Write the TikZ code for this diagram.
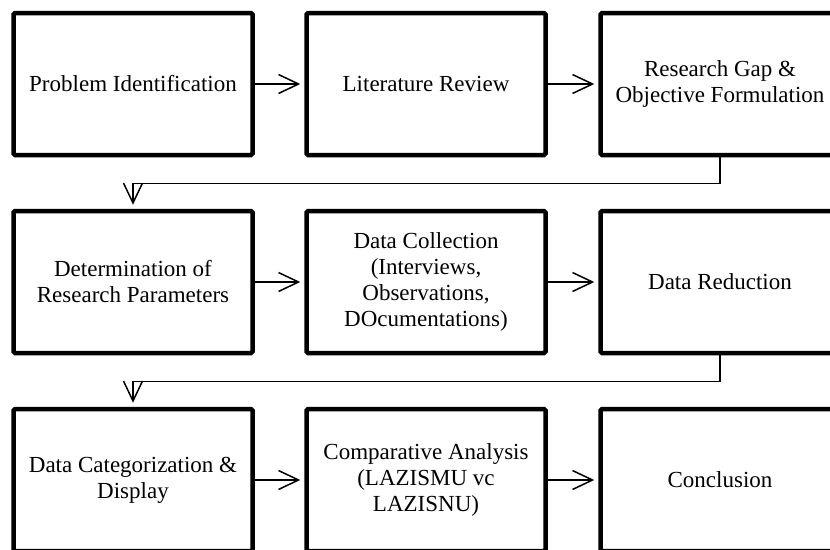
\documentclass[tikz,border=0pt]{standalone}
\usepackage{fontspec}
\setmainfont{Liberation Serif}
\usetikzlibrary{arrows.meta}

\begin{document}
\begin{tikzpicture}[x=1pt,y=-1pt,
    stage/.style={draw,line width=4.5pt,rounded corners=1.5pt,minimum width=239pt,minimum height=142pt,align=center,font=\fontsize{23}{26}\selectfont},
    flow/.style={line width=1.5pt,-{Straight Barb[length=20pt,width=19pt]},shorten >=4pt}]
    \useasboundingbox (0,0) rectangle (830,549);
    % first row
    \node[stage] (ident) at (133,84) {Problem Identification};
    \node[stage] (review) at (426,84) {Literature Review};
    \node[stage] (gap) at (720,84) {Research Gap \&\\Objective Formulation};
    % second row
    \node[stage] (param) at (133,282) {Determination of\\Research Parameters};
    \node[stage] (collect) at (426,282) {Data Collection\\(Interviews,\\Observations,\\DOcumentations)};
    \node[stage] (reduce) at (720,282) {Data Reduction};
    % third row
    \node[stage] (categ) at (133,480) {Data Categorization \&\\Display};
    \node[stage] (compare) at (426,480) {Comparative Analysis\\(LAZISMU vc\\LAZISNU)};
    \node[stage] (concl) at (720,480) {Conclusion};
    \draw[flow] (ident) -- (review);
    \draw[flow] (review) -- (gap);
    \draw[flow] (gap.south) -- ++(0,26) -| (param.north);
    \draw[flow] (param) -- (collect);
    \draw[flow] (collect) -- (reduce);
    \draw[flow] (reduce.south) -- ++(0,26) -| (categ.north);
    \draw[flow] (categ) -- (compare);
    \draw[flow] (compare) -- (concl);
  \end{tikzpicture}
\end{document}
